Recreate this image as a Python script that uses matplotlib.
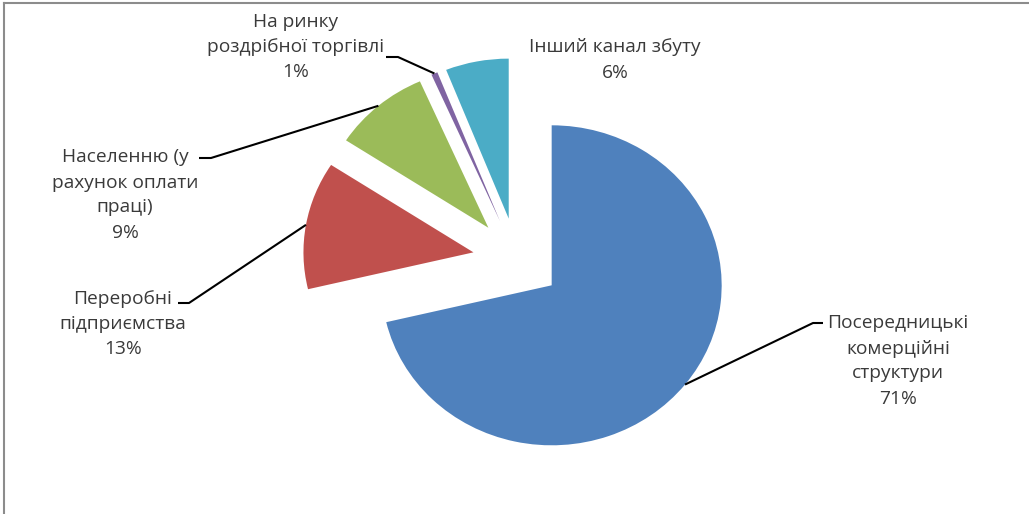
import matplotlib
matplotlib.use('Agg')
import matplotlib.pyplot as plt
import numpy as np
from matplotlib.lines import Line2D

names = ['Посередницькі\nкомерційні\nструктури',
         'Переробні\nпідприємства',
         'Населенню (у\nрахунок оплати\nпраці)',
         'На ринку\nроздрібної торгівлі',
         'Інший канал збуту']
shares = [71.3, 12.9, 9.2, 0.6, 6.0]      # slice sizes as measured
pct_labels = [71, 13, 9, 1, 6]            # percentages as printed
colors = ['#4F81BD', '#C0504D', '#9BBB59', '#8064A2', '#4BACC6']

W, H = 1029, 514
fig = plt.figure(figsize=(W / 100, H / 100), dpi=100)
ax = fig.add_axes([0, 0, 1, 1])

wedges, _ = ax.pie(shares, colors=colors, startangle=90, counterclock=False,
                   explode=[0.26] * len(shares), radius=1,
                   wedgeprops=dict(linewidth=0))

# pie centre in pixels and pixel size of the unit radius (picture is a bit stretched)
cx, cy, sx, sy = 517, 259.5, 170, 160
ax.set_aspect('auto')
ax.set_xlim(-cx / sx, (W - cx) / sx)
ax.set_ylim((cy - H) / sy, cy / sy)
ax.axis('off')


def px(x, y):
    return (x - cx) / sx, (cy - y) / sy


# label centres and leader elbows, in pixels
label_pos = [(898, 361), (123, 324), (125, 195), (296, 47), (615, 60)]
leaders = [[(823, 323), (813, 323)],
           [(178, 303), (189, 303)],
           [(199, 158), (211, 158)],
           [(386, 57), (398, 57)],
           None]

for w, name, v, pos, lead in zip(wedges, names, pct_labels, label_pos, leaders):
    tx, ty = px(*pos)
    ax.text(tx, ty, f'{name}\n{v}%', ha='center', va='center', multialignment='center',
            fontsize=13.8, family='Open Sans', color='#3a3a3a', linespacing=1.5)
    if lead is not None:
        th = np.deg2rad((w.theta1 + w.theta2) / 2)
        end = (w.center[0] + w.r * np.cos(th), w.center[1] + w.r * np.sin(th))
        pts = [px(*p) for p in lead] + [end]
        ax.plot([p[0] for p in pts], [p[1] for p in pts], color='black', lw=1.5,
                solid_capstyle='butt')

# chart frame (only top and left edges visible)
fig.add_artist(Line2D([3.5 / W, 3.5 / W], [0, 1 - 2.5 / H], color='#8c8c8c', lw=1.5))
fig.add_artist(Line2D([3.5 / W, 1], [1 - 2.5 / H, 1 - 2.5 / H], color='#8c8c8c', lw=1.5))

fig.savefig('out.png', dpi=100)
